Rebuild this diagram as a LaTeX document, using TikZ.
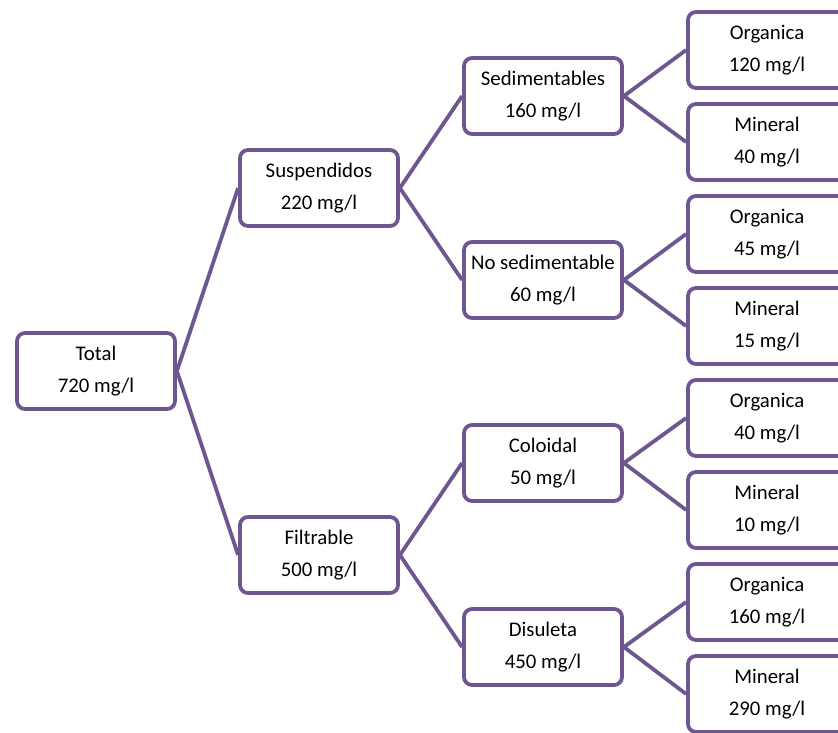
\documentclass[tikz,border=0pt]{standalone}
\usepackage{fontspec}
\setmainfont{Carlito}
\newlength{\du}
\setlength{\du}{1pt}
\definecolor{dialinecolor}{RGB}{110,86,145}
\tikzset{
  solidbox/.style={draw=dialinecolor, line width=3.800000\du, rounded corners=8.000000\du, fill=white,
    minimum width=158.000000\du, minimum height=76.000000\du, inner sep=0pt, align=center,
    font=\fontsize{20.8}{32}\selectfont},
  branch/.style={draw=dialinecolor, line width=3.800000\du}
}

\begin{document}
\begin{tikzpicture}
\pgftransformxscale{1.000000}
\pgftransformyscale{-1.000000}
\clip (0\du,0\du) rectangle (838.000000\du,732.000000\du);
% first level
\node[solidbox] (total) at (96.000000\du,371.000000\du){Total\\720 mg/l};
% second level
\node[solidbox] (susp) at (319.000000\du,188.000000\du){Suspendidos\\220 mg/l};
\node[solidbox] (filt) at (319.000000\du,555.000000\du){Filtrable\\500 mg/l};
% third level
\node[solidbox] (sedi) at (543.000000\du,96.000000\du){Sedimentables\\160 mg/l};
\node[solidbox] (nosed) at (543.000000\du,280.000000\du){No sedimentable\\60 mg/l};
\node[solidbox] (colo) at (543.000000\du,463.000000\du){Coloidal\\50 mg/l};
\node[solidbox] (disu) at (543.000000\du,647.000000\du){Disuleta\\450 mg/l};
% fourth level
\node[solidbox] (sediorg) at (767.000000\du,50.000000\du){Organica\\120 mg/l};
\node[solidbox] (sedimin) at (767.000000\du,142.000000\du){Mineral\\40 mg/l};
\node[solidbox] (nosedorg) at (767.000000\du,234.000000\du){Organica\\45 mg/l};
\node[solidbox] (nosedmin) at (767.000000\du,326.000000\du){Mineral\\15 mg/l};
\node[solidbox] (coloorg) at (767.000000\du,418.000000\du){Organica\\40 mg/l};
\node[solidbox] (colomin) at (767.000000\du,510.000000\du){Mineral\\10 mg/l};
\node[solidbox] (disuorg) at (767.000000\du,602.000000\du){Organica\\160 mg/l};
\node[solidbox] (disumin) at (767.000000\du,694.000000\du){Mineral\\290 mg/l};
% branches
\draw[branch] (total.east)--(susp.west);
\draw[branch] (total.east)--(filt.west);
\draw[branch] (susp.east)--(sedi.west);
\draw[branch] (susp.east)--(nosed.west);
\draw[branch] (filt.east)--(colo.west);
\draw[branch] (filt.east)--(disu.west);
\draw[branch] (sedi.east)--(sediorg.west);
\draw[branch] (sedi.east)--(sedimin.west);
\draw[branch] (nosed.east)--(nosedorg.west);
\draw[branch] (nosed.east)--(nosedmin.west);
\draw[branch] (colo.east)--(coloorg.west);
\draw[branch] (colo.east)--(colomin.west);
\draw[branch] (disu.east)--(disuorg.west);
\draw[branch] (disu.east)--(disumin.west);
\end{tikzpicture}
\end{document}
